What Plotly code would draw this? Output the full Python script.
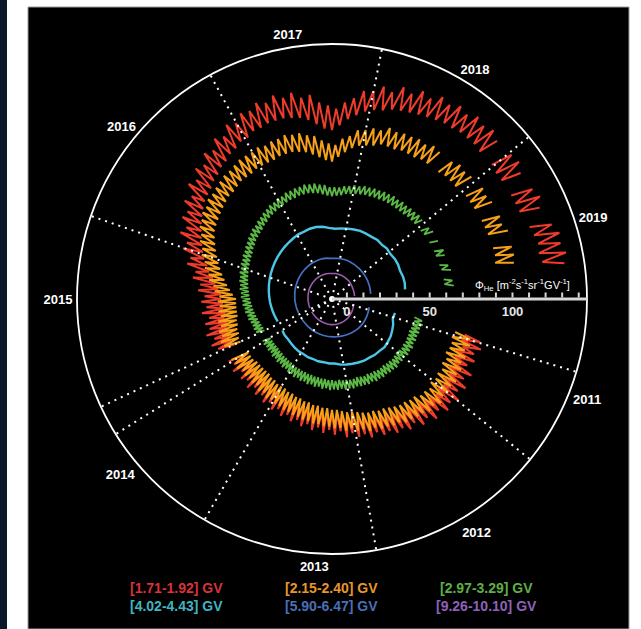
import numpy as np
import plotly.graph_objects as go

# Angular position (degrees, clockwise from the radial axis) stands for time.
THETA_FINE = np.arange(12.5, 352.6, 2.5)     # 137 samples
THETA_COARSE = np.arange(12.5, 352.6, 5.0)   # 69 samples

# Helium flux Phi_He [m^-2 s^-1 sr^-1 GV^-1]: lower / upper envelope of the
# daily values for the three lowest rigidity bins (None = no data)
LOW_171_192 = [
    None, 74, 73, 75, 72, 73, 74, 73, 75, 74,
    76, 75, 76, 75, 74, 73, 72, 71, 70, 70,
    68, 68, 67, 66, 65, 64, 63, 62, 62, 61,
    60, 60, 59, 59, 58, 58, 57, 57, 56, 56,
    55, 55, 54, 54, 53, 53, 53, 52, 52, 52,
    52, 52, 53, 53, 53, None, None, 56, 57, 57,
    56, 57, 56, 57, 56, 57, 57, 58, 58, 60,
    62, 64, 67, 69, 72, 74, 76, 78, 80, 82,
    84, 86, 88, 89, 90, 92, 93, 95, 96, 98,
    99, 101, 101, 103, 103, 104, 104, 104, 103, 102,
    100, 97, 94, 93, 96, 100, 103, 106, 108, 109,
    111, 112, 113, 114, 115, 116, 117, 117, 118, 118,
    118, 117, None, 117, 116, 116, None, 116, 116, 116,
    None, 118, 119, 120, 119, 120, None,
]
HIGH_171_192 = [
    None, 84, 86, 83, 85, 82, 87, 84, 88, 85,
    89, 86, 88, 84, 87, 83, 85, 81, 83, 80,
    81, 78, 79, 76, 78, 75, 76, 73, 75, 71,
    73, 70, 72, 69, 71, 68, 70, 67, 69, 66,
    68, 65, 67, 64, 66, 63, 65, 62, 65, 62,
    64, 61, 65, 62, 64, None, None, 66, 69, 66,
    70, 67, 69, 66, 70, 67, 70, 68, 72, 71,
    76, 75, 81, 80, 86, 85, 91, 89, 94, 93,
    98, 96, 102, 100, 105, 103, 108, 106, 111, 109,
    114, 112, 116, 115, 118, 116, 119, 116, 118, 114,
    115, 110, 108, 106, 110, 113, 118, 119, 123, 121,
    126, 124, 128, 126, 130, 128, 131, 129, 132, 130,
    132, 129, None, 130, 131, 128, None, 129, 131, 128,
    None, 131, 134, 133, 135, 133, None,
]
LOW_215_240 = [
    None, 68, 67, 68, 68, 67, 69, 68, 70, 69,
    70, 69, 71, 70, 70, 68, 68, 67, 67, 66,
    65, 64, 64, 63, 63, 62, 61, 60, 60, 59,
    58, 58, 57, 57, 56, 56, 55, 55, 54, 54,
    53, 53, 52, 52, 52, 51, 51, 50, 50, 50,
    50, 50, 51, 51, 51, None, None, 52, 52, 51,
    51, 50, 50, 49, 49, 49, 49, 49, 51, 53,
    55, 57, 59, 61, 63, 65, 67, 69, 71, 73,
    74, 75, 76, 77, 78, 79, 79, 80, 81, 81,
    81, 82, 82, 82, 82, 83, 83, 83, 82, 81,
    79, 77, 75, 74, 77, 80, 83, 85, 86, 87,
    89, 89, 89, 90, 90, 90, 91, 91, None, 91,
    92, 92, 92, None, 93, 93, 93, None, 93, 93,
    93, None, 93, 93, 92, None, None,
]
HIGH_215_240 = [
    None, 78, 79, 77, 79, 78, 80, 79, 81, 80,
    81, 80, 82, 80, 81, 79, 79, 78, 78, 76,
    76, 75, 75, 73, 74, 72, 72, 70, 71, 69,
    69, 68, 68, 67, 67, 66, 66, 65, 65, 64,
    64, 63, 63, 62, 63, 61, 62, 60, 61, 60,
    61, 60, 62, 61, 62, None, None, 62, 63, 61,
    62, 60, 61, 59, 60, 59, 60, 59, 62, 63,
    66, 67, 70, 71, 74, 75, 78, 79, 82, 83,
    85, 85, 87, 87, 88, 89, 90, 90, 91, 92,
    92, 92, 93, 92, 93, 93, 94, 93, 93, 91,
    90, 87, 85, 84, 88, 90, 94, 95, 97, 97,
    100, 99, 100, 100, 101, 100, 102, 101, None, 101,
    103, 102, 103, None, 104, 103, 104, None, 104, 103,
    105, None, 104, 104, 103, None, None,
]
LOW_297_329 = [
    42, 42.5, 42, 42, 41.5, 42, 42, 42.5, 42, 42.5,
    42, 41.5, 42, 42.5, 42, 42, 41.5, 42, 42, 41.5,
    41.5, 41, 41.5, 41, 40.5, 41, 41, 40.5, 40.5, 40,
    40.5, 40, 40, 39.5, 39.5, 39, 39, 38.5, 38.5, 38,
    38, 37.5, 37.5, 37, 36.5, 36.5, 36, 36, 35.5, 35.5,
    35, 35, 35, 35, 35, None, None, 36, 36, 36.5,
    37, 37.5, 38, 38.5, 39, 39.5, 40, 40.5, 41, 41.5,
    42, 42.5, 43, 43.5, 44, 44.5, 45, 45.5, 46, 46.5,
    47.5, 48, 49, 49.5, 50, 50.5, 51.5, 52, 53, 53.5,
    54, 54.5, 55, 55.5, 56, 56, 56.5, 56.5, 56.5, 56,
    55.5, 54.5, 53.5, 53, 53.5, 54, 55, 55.5, 56, 56.5,
    57, 57, 57.5, 57.5, 58, 58, 58, 58, 58, 58,
    58.5, 58.5, 58.5, None, 58.5, 59, None, 59, None, 59,
    59, None, 59, 59.5, None, 59.5, 59.5,
]
HIGH_297_329 = [
    47, 48, 47, 47.5, 47, 47.5, 47, 48, 47.5, 48,
    47, 47.5, 47, 48, 47.5, 47.5, 47, 47.5, 47, 47.5,
    46.5, 47, 46.5, 46.5, 46, 46.5, 46, 46.5, 45.5, 46,
    45.5, 46, 45, 45.5, 44.5, 45, 44, 44.5, 43.5, 44,
    43, 43.5, 42.5, 42.5, 41.5, 42, 41, 41.5, 40.5, 41,
    40, 40.5, 40, 40.5, 40, None, None, 41, 41.5, 41.5,
    42, 43, 43, 44, 44, 45, 45, 46, 46, 47,
    47, 48, 48, 49, 49, 50, 50, 51, 51, 52,
    52.5, 53.5, 54, 55, 55, 56, 56.5, 57.5, 58, 59,
    59, 60, 60, 61, 61, 61.5, 61.5, 62, 61.5, 61.5,
    60.5, 60, 58.5, 58.5, 58.5, 59.5, 60, 61, 61, 62,
    62, 62.5, 62.5, 63, 63, 63.5, 63, 63.5, 63, 63.5,
    63.5, 64, 63.5, None, 63.5, 64.5, None, 64, None, 64.5,
    64, None, 64, 65, None, 64.5, 65,
]
# higher rigidity bins: smoother, one value per sample
R_402_443 = [
    30, 29.5, 31, 32, 33, 33.5, 34, 33.5, 33.5, 33,
    33, 32.5, 32, 31.5, 31, 30, 30, 29.5, 29.5, 29,
    29, 28.5, 28.5, 28, 27.5, 27, 27, 26.5, None, 26.5,
    27, 27.5, 28, 28.5, 29, 29.5, 30, 30.5, 31, 31.5,
    32, 32.5, 33, 33.5, 34, 34.5, 35, 35, 35.5, 35.5,
    35, 34, 33.5, 34, 34.5, 35, 35.5, 35.5, 35.5, 36,
    35.5, 36, 35.5, 36, 36, 35.5, 36, 36, 35.5,
]
R_590_647 = [
    14.0, 14.2, 14.3, 14.5, 14.6, 14.7, 14.8, 14.8, 14.7, 14.6,
    14.5, 14.4, 14.2, 14.1, 14.0, 13.9, 13.8, 13.7, 13.6, 13.5,
    13.4, 13.3, 13.2, 13.1, 13.0, 12.9, 12.9, 12.8, None, 12.9,
    13.0, 13.1, 13.2, 13.4, 13.5, 13.7, 13.9, 14.1, 14.3, 14.5,
    14.7, 14.9, 15.1, 15.3, 15.5, 15.7, 15.8, 15.9, 16.0, 16.0,
    15.9, 15.6, 15.5, 15.7, 15.9, 16.0, 16.0, 15.9, 15.8, 15.7,
    15.6, 15.5, 15.4, 15.3, 15.2, 15.0, 14.9, 14.7, 14.6,
]
R_926_1010 = [
    4.5, 4.6, 4.8, 5.0, 5.2, 5.4, 5.6, 5.8, 6.0, 6.1,
    6.2, 6.3, 6.4, 6.5, 6.5, 6.5, 6.5, 6.4, 6.3, 6.2,
    6.1, 6.0, 5.9, 5.8, 5.7, 5.6, 5.5, 5.5, None, 5.4,
    5.4, 5.4, 5.4, 5.5, 5.5, 5.6, 5.7, 5.8, 5.9, 6.0,
    6.1, 6.2, 6.3, 6.4, 6.5, 6.5, 6.6, 6.6, 6.6, 6.6,
    6.5, 6.4, 6.4, 6.5, 6.5, 6.4, 6.3, 6.2, 6.1, 6.0,
    5.9, 5.7, 5.5, 5.3, 5.1, 5.0, 4.9, 4.8, 4.7,
]

BIN_LABELS = ["[1.71-1.92] GV", "[2.15-2.40] GV", "[2.97-3.29] GV",
              "[4.02-4.43] GV", "[5.90-6.47] GV", "[9.26-10.10] GV"]
LINE_COLORS = ["#ef3b2c", "#f7a11a", "#5cb946", "#4cc6e6", "#4670c0", "#9a5aae"]
TEXT_COLORS = ["#d8323c", "#e6962c", "#5fae46", "#3fb3c0", "#4a6fb8", "#8d62b8"]

YEARS = ["2011", "2012", "2013", "2014", "2015", "2016", "2017", "2018", "2019"]
YEAR_LABEL_THETA = [21.8, 59.9, 93.9, 139.5, 180, 220.9, 263.4, 299.7, 341.9]
YEAR_LINE_THETA = [0, 16.6, 39, 80, 120, 148, 155, 199, 241.5, 281.3, 320.5]

RADIAL_RANGE = [-9, 145]
RADIAL_TICKS = list(range(0, 141, 10))
RADIAL_TICKTEXT = ["<b>%d</b>" % v if v in (0, 50, 100) else "" for v in RADIAL_TICKS]

W, H = 641, 629
FONT = "Liberation Sans"
POLAR_DOMAIN = dict(x=[77 / W, 587 / W], y=[1 - 554 / H, 1 - 44 / H])
FINE_STEP = 2.5


def envelope_path(theta, low, high, step):
    """Alternate lower / upper envelope samples so the trace shows the spread."""
    th, r = [], []
    for t, lo, hi in zip(theta, low, high):
        th += [t, t + step / 2]
        r += [lo, hi]
    return th, r


fig = go.Figure()

for low, high, col, lw in [(LOW_171_192, HIGH_171_192, LINE_COLORS[0], 2.0),
                           (LOW_215_240, HIGH_215_240, LINE_COLORS[1], 2.0),
                           (LOW_297_329, HIGH_297_329, LINE_COLORS[2], 1.8)]:
    th, r = envelope_path(THETA_FINE, low, high, FINE_STEP)
    fig.add_trace(go.Scatterpolar(
        r=r, theta=th, mode="lines", subplot="polar",
        line=dict(color=col, width=lw), connectgaps=False, hoverinfo="skip",
    ))

for r, col, lw in [(R_402_443, LINE_COLORS[3], 2.4),
                   (R_590_647, LINE_COLORS[4], 1.7),
                   (R_926_1010, LINE_COLORS[5], 1.6)]:
    fig.add_trace(go.Scatterpolar(
        r=r, theta=THETA_COARSE, mode="lines", subplot="polar",
        line=dict(color=col, width=lw), connectgaps=False, hoverinfo="skip",
    ))

# origin marker on the overlay subplot
fig.add_trace(go.Scatterpolar(
    r=[RADIAL_RANGE[0]], theta=[0], mode="markers", subplot="polar2",
    marker=dict(color="white", size=6), hoverinfo="skip",
))

fig.update_layout(
    width=W, height=H,
    margin=dict(l=0, r=0, t=0, b=0),
    paper_bgcolor="white",
    showlegend=False,
    polar=dict(
        domain=POLAR_DOMAIN,
        bgcolor="black",
        angularaxis=dict(
            direction="clockwise", rotation=0,
            tickmode="array", tickvals=YEAR_LABEL_THETA,
            ticktext=["<b>%s</b>" % y for y in YEARS],
            showgrid=False, showline=True, linecolor="white", linewidth=1.8,
            ticks="outside", ticklen=1, tickcolor="rgba(0,0,0,0)",
            tickfont=dict(family=FONT, size=13, color="white"),
        ),
        radialaxis=dict(range=RADIAL_RANGE, visible=False),
    ),
    polar2=dict(
        domain=POLAR_DOMAIN,
        bgcolor="rgba(0,0,0,0)",
        angularaxis=dict(
            direction="clockwise", rotation=0,
            tickmode="array", tickvals=YEAR_LINE_THETA,
            showticklabels=False, ticks="", showline=False,
            showgrid=True, gridcolor="white", gridwidth=1.6,
            griddash="2px,5px",
        ),
        radialaxis=dict(
            range=RADIAL_RANGE, side="clockwise",
            showgrid=False, showline=True, linecolor="#d6d6d6", linewidth=3,
            tickmode="array", tickvals=RADIAL_TICKS, ticktext=RADIAL_TICKTEXT,
            ticks="inside", ticklen=5, tickwidth=1.5, tickcolor="#d6d6d6",
            tickfont=dict(family=FONT, size=13, color="#e6e6e6"),
        ),
    ),
    shapes=[
        dict(type="rect", xref="paper", yref="paper", layer="below",
             x0=0, x1=7 / W, y0=0, y1=1,
             fillcolor="#0b1829", line=dict(width=0)),
        dict(type="rect", xref="paper", yref="paper", layer="below",
             x0=28 / W, x1=629 / W, y0=0, y1=1 - 7 / H,
             fillcolor="black", line=dict(color="#9a9a9a", width=1)),
    ],
)

annotations = [dict(
    text="Φ<sub>He</sub> [m<sup>-2</sup>s<sup>-1</sup>sr<sup>-1</sup>GV<sup>-1</sup>]",
    xref="paper", yref="paper", x=522 / W, y=1 - 285 / H,
    xanchor="center", yanchor="middle",
    showarrow=False, font=dict(family=FONT, size=11, color="white"),
)]

LEGEND_COL_X = [177, 331, 486]
LEGEND_ROW_Y = [588, 606]
for i, (lab, tc) in enumerate(zip(BIN_LABELS, TEXT_COLORS)):
    annotations.append(dict(
        text="<b>" + lab + "</b>", xref="paper", yref="paper",
        x=LEGEND_COL_X[i % 3] / W, y=1 - LEGEND_ROW_Y[i // 3] / H,
        xanchor="center", yanchor="middle",
        showarrow=False, font=dict(family=FONT, size=14, color=tc),
    ))
fig.update_layout(annotations=annotations)

fig.write_html("out.html")
